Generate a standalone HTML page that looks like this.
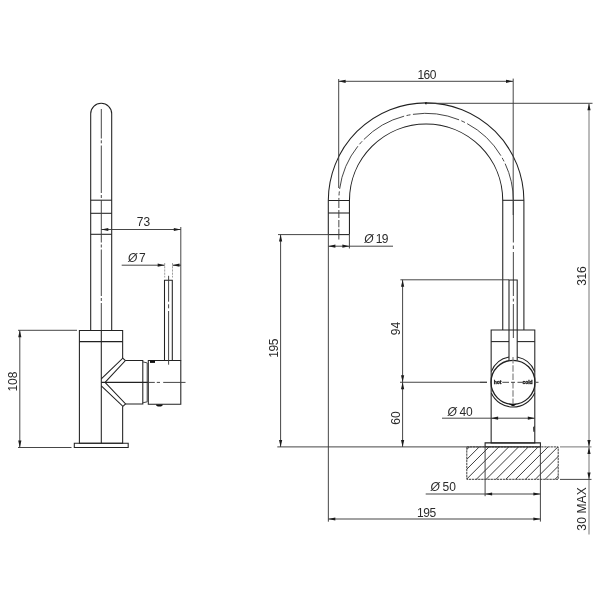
<!DOCTYPE html>
<html lang="en">
<head>
<meta charset="utf-8">
<title>Mixer tap - dimension drawing</title>
<style>
html,body{margin:0;padding:0;background:#fff;}
body{width:600px;height:600px;overflow:hidden;}
svg{display:block;}
svg{will-change:transform;}
.o{fill:none;stroke:#222;stroke-width:1.06;}
.k{fill:none;stroke:#222;stroke-width:1.3;}
.d{fill:none;stroke:#3c3c3c;stroke-width:.95;}
.g{fill:none;stroke:#777;stroke-width:1;}
.e{fill:none;stroke:#888;stroke-width:.8;stroke-dasharray:2.2 1;}
.c{fill:none;stroke:#3c3c3c;stroke-width:.95;}
.h{fill:none;stroke:#777;stroke-width:1.1;}
.x{fill:none;stroke:#333;stroke-width:.95;}
.f{fill:#111;stroke:none;}
.a{fill:#1c1c1c;stroke:none;}
.t{font-family:"Liberation Sans",sans-serif;font-size:12px;fill:#2a2a2a;}
.s{font-family:"Liberation Sans",sans-serif;font-size:5px;font-weight:bold;letter-spacing:-0.1px;fill:#111;stroke:#111;stroke-width:.3px;}
.ph{font-style:italic;}
</style>
</head>
<body>
<svg width="600" height="600" viewBox="0 0 600 600">
<defs><clipPath id="hc"><rect x="466.8" y="446.9" width="91.3" height="32.5"/></clipPath></defs>
<rect x="0" y="0" width="600" height="600" fill="#fff"/>
<path class="o" d="M90.7,330.5 V113.8 A10.5,10.5 0 0 1 111.7,113.8 V330.5"/>
<line class="o" x1="90.7" y1="200.2" x2="111.7" y2="200.2"/>
<line class="o" x1="90.7" y1="213.3" x2="111.7" y2="213.3"/>
<line class="o" x1="90.7" y1="234.3" x2="111.7" y2="234.3"/>
<line class="c" x1="101.3" y1="109" x2="101.3" y2="138.5"/>
<line class="c" x1="101.3" y1="140.3" x2="101.3" y2="143.3"/>
<line class="c" x1="101.3" y1="145.5" x2="101.3" y2="193"/>
<line class="c" x1="101.3" y1="195" x2="101.3" y2="198"/>
<line class="c" x1="101.3" y1="200" x2="101.3" y2="242.5"/>
<line class="c" x1="101.3" y1="244.5" x2="101.3" y2="247.5"/>
<line class="c" x1="101.3" y1="249.5" x2="101.3" y2="296"/>
<line class="c" x1="101.3" y1="298" x2="101.3" y2="301"/>
<line class="c" x1="101.3" y1="303" x2="101.3" y2="330.5"/>
<line class="o" x1="101.3" y1="330.5" x2="101.3" y2="443.3"/>
<path class="o" d="M122.65,358.2 V330.5 H79.4 V443.3 H122.65 V406.3"/>
<line class="o" x1="79.4" y1="341.6" x2="122.65" y2="341.6"/>
<path class="o" d="M74.3,443.3 H128.2 V447.5 H74.3 Z"/>
<path class="o" d="M101.3,378.8 L122.8,358.2 L125.4,360.6 L105.3,382.2"/>
<path class="o" d="M101.3,385.8 L122.9,406.3 L125.6,403.9 L105.3,382.6"/>
<path class="o" d="M125.4,360.55 H142.8 V404 H125.6"/>
<line class="o" x1="101.3" y1="382.4" x2="148" y2="382.4"/>
<path class="d" d="M142.8,361.9 L147.2,362.9 V401.8 L142.8,402.8"/>
<path class="o" d="M148.3,360.5 H180.8 V404.3 H148.3 Z"/>
<rect class="f" x="150" y="360.5" width="5" height="2.4"/>
<path class="f" d="M156,404.4 A3.4,2 0 0 0 162.8,404.4 Z"/>
<line class="c" x1="148.6" y1="382.4" x2="154.8" y2="382.4"/>
<line class="c" x1="156.8" y1="382.4" x2="160" y2="382.4"/>
<line class="c" x1="163.2" y1="382.4" x2="185.5" y2="382.4"/>
<path class="o" d="M164.5,360.5 V280.3 H172.3 V360.5"/>
<line class="c" x1="168.6" y1="275.8" x2="168.6" y2="301.7"/>
<line class="c" x1="168.6" y1="304.3" x2="168.6" y2="308.3"/>
<line class="c" x1="168.6" y1="311" x2="168.6" y2="364.7"/>
<line class="d" x1="101.3" y1="229.5" x2="180.8" y2="229.5"/>
<polygon class="a" points="101.30,229.50 108.30,227.90 108.30,231.10"/>
<polygon class="a" points="180.80,229.50 173.80,227.90 173.80,231.10"/>
<line class="d" x1="180.8" y1="227" x2="180.8" y2="360.5"/>
<text class="t" x="143.4" y="226.3" text-anchor="middle">73</text>
<line class="d" x1="121.7" y1="265.2" x2="164.7" y2="265.2"/>
<line class="d" x1="172.5" y1="265.2" x2="181" y2="265.2"/>
<polygon class="a" points="164.70,265.20 157.70,263.60 157.70,266.80"/>
<polygon class="a" points="172.50,265.20 179.50,263.60 179.50,266.80"/>
<line class="e" x1="164.7" y1="263" x2="164.7" y2="277.5"/>
<line class="e" x1="172.5" y1="263" x2="172.5" y2="277.5"/>
<text class="t" x="128.1" y="262.2" text-anchor="start"><tspan class="ph">Ø</tspan><tspan dx="1.6">7</tspan></text>
<line class="d" x1="19.8" y1="330.3" x2="19.8" y2="447.5"/>
<polygon class="a" points="19.80,330.30 18.20,337.30 21.40,337.30"/>
<polygon class="a" points="19.80,447.50 18.20,440.50 21.40,440.50"/>
<line class="d" x1="18" y1="330.3" x2="77" y2="330.3"/>
<line class="d" x1="18" y1="447.5" x2="71.5" y2="447.5"/>
<text class="t" text-anchor="middle" transform="translate(12.2,381.6) rotate(-90)" x="0" y="4.3">108</text>
<path class="o" d="M328.3,234.6 V200.6 A97.8,97.8 0 0 1 523.9,200.6 V330"/>
<path class="o" d="M349.45000000000005,234.6 V200.6 A76.65,76.65 0 0 1 502.75,200.6 V330"/>
<line class="o" x1="328.3" y1="200.5" x2="349.45000000000005" y2="200.5"/>
<line class="o" x1="328.3" y1="213" x2="349.45000000000005" y2="213"/>
<line class="o" x1="328.3" y1="234.6" x2="349.45000000000005" y2="234.6"/>
<line class="o" x1="502.75" y1="200.3" x2="523.9" y2="200.3"/>
<path class="c" d="M459.07,119.82 A87.25,87.25 0 0 0 338.85,200.6 V208" stroke-dasharray="47 2.5 4 2.5"/>
<path class="c" d="M459.07,119.82 A87.25,87.25 0 0 1 513.35,200.6" stroke-dasharray="0 2.5 4 2.5 47 0"/>
<line class="c" x1="338.85" y1="210" x2="338.85" y2="218"/>
<line class="c" x1="338.85" y1="220" x2="338.85" y2="227.3"/>
<line class="c" x1="338.85" y1="228.8" x2="338.85" y2="239.5"/>
<line class="c" x1="513.35" y1="200" x2="513.35" y2="242.5"/>
<line class="c" x1="513.35" y1="245.5" x2="513.35" y2="249"/>
<line class="c" x1="513.35" y1="252" x2="513.35" y2="296"/>
<line class="c" x1="513.35" y1="298.7" x2="513.35" y2="301.5"/>
<line class="c" x1="513.35" y1="304" x2="513.35" y2="338"/>
<path class="o" d="M491.15,330 H534.8 V443 H491.15 Z"/>
<line class="o" x1="491.15" y1="341.6" x2="509" y2="341.6"/>
<line class="o" x1="517.2" y1="341.6" x2="534.8" y2="341.6"/>
<path class="o" d="M509,360.2 V280 H517.2 V360.2" fill="#fff"/>
<circle class="k" cx="513" cy="382.3" r="22"/>
<path class="o" d="M491.3,371.6 A23.6,23.6 0 0 1 509,357 M517.2,357 A23.6,23.6 0 0 1 534.7,371.6"/>
<path class="o" d="M491.3,393 A23.8,23.8 0 0 0 534.7,393"/>
<path class="f" d="M509.3,403.7 Q513,404.6 516.7,403.7 Q513,408.6 509.3,403.7 Z"/>
<line class="h" x1="513" y1="357" x2="513" y2="404" stroke-dasharray="6.5 1.8"/>
<line class="c" x1="480" y1="382.3" x2="487" y2="382.3"/>
<line class="c" x1="502.3" y1="382.3" x2="509" y2="382.3"/>
<line class="c" x1="511" y1="382.3" x2="515" y2="382.3"/>
<line class="c" x1="517.5" y1="382.3" x2="522.5" y2="382.3"/>
<line class="c" x1="536" y1="382.3" x2="538.5" y2="382.3"/>
<text class="s" x="497.5" y="384.4" text-anchor="middle">hot</text>
<text class="s" x="527.5" y="384.4" text-anchor="middle" letter-spacing="-0.3">cold</text>
<path class="o" d="M485.1,442.9 H540.4 V446.9 H485.1 Z"/>
<path class="f" d="M534.4,425.5 L533.2,427.5 L533.4,431.8 L534.4,431.8 Z"/>
<g clip-path="url(#hc)">
<line class="x" x1="417.25" y1="479.4" x2="449.75" y2="446.9"/>
<line class="x" x1="427.08" y1="479.4" x2="459.58" y2="446.9"/>
<line class="x" x1="436.91" y1="479.4" x2="469.41" y2="446.9"/>
<line class="x" x1="446.74" y1="479.4" x2="479.24" y2="446.9"/>
<line class="x" x1="456.57" y1="479.4" x2="489.07" y2="446.9"/>
<line class="x" x1="466.4" y1="479.4" x2="498.9" y2="446.9"/>
<line class="x" x1="476.23" y1="479.4" x2="508.73" y2="446.9"/>
<line class="x" x1="486.06" y1="479.4" x2="518.56" y2="446.9"/>
<line class="x" x1="495.89" y1="479.4" x2="528.39" y2="446.9"/>
<line class="x" x1="505.72" y1="479.4" x2="538.22" y2="446.9"/>
<line class="x" x1="515.55" y1="479.4" x2="548.05" y2="446.9"/>
<line class="x" x1="525.38" y1="479.4" x2="557.88" y2="446.9"/>
<line class="x" x1="535.21" y1="479.4" x2="567.71" y2="446.9"/>
<line class="x" x1="545.04" y1="479.4" x2="577.54" y2="446.9"/>
<line class="x" x1="554.87" y1="479.4" x2="587.37" y2="446.9"/>
<line class="x" x1="564.7" y1="479.4" x2="597.2" y2="446.9"/>
</g>
<rect class="x" x="466.8" y="446.9" width="91.4" height="32.4" fill="none" stroke-dasharray="2.4 0.7"/>
<line class="d" x1="338.6" y1="81.3" x2="513" y2="81.3"/>
<polygon class="a" points="338.60,81.30 345.60,79.70 345.60,82.90"/>
<polygon class="a" points="513.00,81.30 506.00,79.70 506.00,82.90"/>
<line class="d" x1="338.7" y1="79" x2="338.7" y2="188"/>
<line class="d" x1="513.2" y1="78.6" x2="513.2" y2="215"/>
<text class="t" x="426.6" y="78.8" text-anchor="middle" letter-spacing="-0.55">160</text>
<circle class="f" cx="426" cy="103.3" r="1.1"/>
<line class="d" x1="426" y1="103.3" x2="592.5" y2="103.3"/>
<line class="g" x1="589" y1="103.3" x2="589" y2="534.5"/>
<polygon class="a" points="589.00,103.30 587.40,110.30 590.60,110.30"/>
<polygon class="a" points="589.00,447.00 587.40,440.00 590.60,440.00"/>
<text class="t" text-anchor="middle" transform="translate(582.1,276.2) rotate(-90)" x="0" y="4.3" letter-spacing="-0.3">316</text>
<line class="d" x1="277.3" y1="446.9" x2="485" y2="446.9"/>
<line class="g" x1="560" y1="446.9" x2="591.5" y2="446.9"/>
<line class="d" x1="560" y1="479.4" x2="591.5" y2="479.4"/>
<polygon class="a" points="589.00,447.00 587.40,454.00 590.60,454.00"/>
<polygon class="a" points="589.00,479.40 587.40,472.40 590.60,472.40"/>
<text class="t" text-anchor="middle" transform="translate(582,508.9) rotate(-90)" x="0" y="4.3" letter-spacing="0.15">30 MAX</text>
<line class="d" x1="280.6" y1="234.6" x2="280.6" y2="446.9"/>
<polygon class="a" points="280.60,234.60 279.00,241.60 282.20,241.60"/>
<polygon class="a" points="280.60,446.90 279.00,439.90 282.20,439.90"/>
<line class="d" x1="278" y1="234.6" x2="328.4" y2="234.6"/>
<text class="t" text-anchor="middle" transform="translate(273.9,348.3) rotate(-90)" x="0" y="4.3" letter-spacing="-0.4">195</text>
<line class="d" x1="328.4" y1="246.2" x2="393" y2="246.2"/>
<polygon class="a" points="328.40,246.20 335.40,244.60 335.40,247.80"/>
<polygon class="a" points="349.40,246.20 342.40,244.60 342.40,247.80"/>
<line class="d" x1="328.35" y1="234.6" x2="328.35" y2="521.7"/>
<line class="d" x1="349.4" y1="234.6" x2="349.4" y2="248.5"/>
<text class="t" x="364.2" y="243.4" text-anchor="start"><tspan class="ph">Ø</tspan><tspan dx="2.2" letter-spacing="-0.6">19</tspan></text>
<line class="d" x1="400.4" y1="279.8" x2="509" y2="279.8"/>
<line class="d" x1="402.6" y1="279.8" x2="402.6" y2="446.9"/>
<polygon class="a" points="402.60,279.80 401.00,286.80 404.20,286.80"/>
<polygon class="a" points="402.60,382.20 401.00,375.20 404.20,375.20"/>
<polygon class="a" points="402.60,382.20 401.00,389.20 404.20,389.20"/>
<polygon class="a" points="402.60,446.90 401.00,439.90 404.20,439.90"/>
<line class="d" x1="400" y1="382.25" x2="487" y2="382.25"/>
<text class="t" text-anchor="middle" transform="translate(395.2,328.6) rotate(-90)" x="0" y="4.3">94</text>
<text class="t" text-anchor="middle" transform="translate(395.7,418) rotate(-90)" x="0" y="4.3">60</text>
<line class="d" x1="442" y1="418.2" x2="534.8" y2="418.2"/>
<polygon class="a" points="491.15,418.20 498.15,416.60 498.15,419.80"/>
<polygon class="a" points="534.80,418.20 527.80,416.60 527.80,419.80"/>
<text class="t" x="447.5" y="415.7" text-anchor="start"><tspan class="ph">Ø</tspan><tspan dx="2.6">40</tspan></text>
<line class="d" x1="425.7" y1="494" x2="540.4" y2="494"/>
<polygon class="a" points="485.10,494.00 492.10,492.40 492.10,495.60"/>
<polygon class="a" points="540.40,494.00 533.40,492.40 533.40,495.60"/>
<line class="d" x1="485.1" y1="446.9" x2="485.1" y2="496.2"/>
<line class="d" x1="540.4" y1="446.9" x2="540.4" y2="521.6"/>
<text class="t" x="430.6" y="491" text-anchor="start"><tspan class="ph">Ø</tspan><tspan dx="2.6">50</tspan></text>
<line class="d" x1="328.3" y1="519" x2="540.4" y2="519"/>
<polygon class="a" points="328.30,519.00 335.30,517.40 335.30,520.60"/>
<polygon class="a" points="540.40,519.00 533.40,517.40 533.40,520.60"/>
<text class="t" x="426.4" y="516.7" text-anchor="middle" letter-spacing="-0.4">195</text>
</svg>
</body>
</html>
